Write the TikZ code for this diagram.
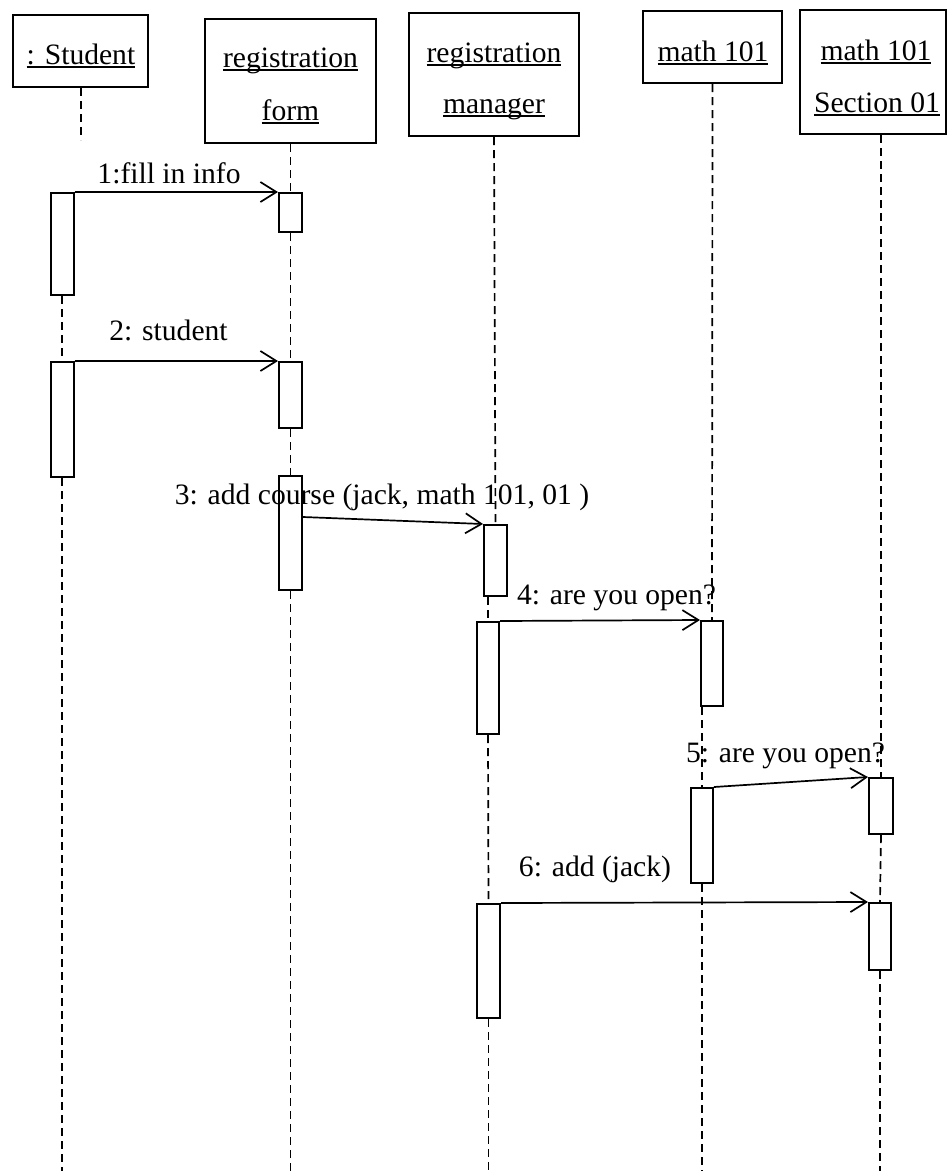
\documentclass[tikz,border=0pt]{standalone}
\usepackage{fontspec}
\setmainfont{Liberation Serif}
\usetikzlibrary{arrows.meta,calc}
\newcommand\ulx[1]{\setbox0\hbox{#1}\rlap{\rule[-3.5pt]{\wd0}{1.8pt}}\box0}
\begin{document}
\begin{tikzpicture}[x=1pt,y=-1pt,
  font=\fontsize{29.6}{34}\selectfont,
  objbox/.style={draw,line width=2pt,inner sep=0pt,fill=white},
  act/.style={draw,line width=2pt,fill=white,minimum width=23pt,inner sep=0pt,anchor=north},
  life/.style={line width=1.7pt,dash pattern=on 8pt off 5pt},
  msg/.style={line width=1.7pt,-{Straight Barb[length=16pt,width=20pt,line width=1.7pt]}},
  lbl/.style={anchor=base,inner sep=0pt}]
\useasboundingbox (0,0) rectangle (948,1171);
% object boxes
\node[objbox,minimum width=135pt,minimum height=72pt] (bStu) at (80.5,51) {};
\node[objbox,minimum width=171pt,minimum height=124pt] (bForm) at (290.5,81) {};
\node[objbox,minimum width=170pt,minimum height=123pt] (bMgr) at (494,74.5) {};
\node[objbox,minimum width=139pt,minimum height=72pt] (bMath) at (712.5,47) {};
\node[objbox,minimum width=146pt,minimum height=124pt] (bSec) at (873,72) {};
\node[lbl] (tStu) at (81,64) {\ulx{: Student}};
\node[lbl] (tForm1) at (290.5,67) {\ulx{registration}};
\node[lbl] (tForm2) at (290.5,120) {\ulx{form}};
\node[lbl] (tMgr1) at (494,62) {\ulx{registration}};
\node[lbl] (tMgr2) at (494,113) {\ulx{manager}};
\node[lbl] (tMath) at (713,61) {\ulx{math 101}};
\node[lbl] (tSec1) at (876,60) {\ulx{math 101}};
\node[lbl] (tSec2) at (877,112) {\ulx{Section 01}};
% activations
\node[act,minimum height=102pt] (sa1) at (62,192) {};
\node[act,minimum height=115pt] (sa2) at (62,361) {};
\node[act,minimum height=39pt] (fa1) at (290.5,192) {};
\node[act,minimum height=66pt] (fa2) at (290.5,361) {};
\node[act,minimum height=114pt] (fa3) at (290.5,475) {};
\node[act,minimum height=71pt] (ma1) at (495.5,524) {};
\node[act,minimum height=112pt,minimum width=22pt] (ma2) at (488,621) {};
\node[act,minimum height=114pt] (ma3) at (488.5,903) {};
\node[act,minimum height=85pt,minimum width=22pt] (mt1) at (712,620) {};
\node[act,minimum height=95pt,minimum width=22pt] (mt2) at (702,787) {};
\node[act,minimum height=56pt,minimum width=24pt] (s1) at (881,777) {};
\node[act,minimum height=67pt,minimum width=22pt] (s2) at (880,902) {};
% free ends
\coordinate (stuTopEnd) at (81,140);
\coordinate (stuEnd) at (62,1171);
\coordinate (formEnd) at (290.5,1171);
\coordinate (mgrEnd) at (488.5,1171);
\coordinate (mathEnd) at (702,1171);
\coordinate (secEnd) at (880,1171);
% lifelines
\draw[life] (bStu.south -| stuTopEnd) -- (stuTopEnd);
\draw[life] (sa1.south) -- (sa2.north);
\draw[life] (sa2.south) -- (stuEnd);
\draw[life] (bForm.south) -- (fa1.north);
\draw[life] (fa1.south) -- (fa2.north);
\draw[life] (fa2.south) -- (fa3.north);
\draw[life] (fa3.south) -- (formEnd);
\draw[life] (bMgr.south) -- (ma1.north);
\draw[life] (ma2.north |- ma1.south) -- (ma2.north);
\draw[life] (ma2.south) -- (ma3.north);
\draw[life] (ma3.south) -- (mgrEnd);
\draw[life] (bMath.south) -- (mt1.north);
\draw[life] (mt2.north |- mt1.south) -- (mt2.north);
\draw[life] (mt2.south) -- (mathEnd);
\draw[life] (bSec.south -| s1.north) -- (s1.north);
\draw[life] (s1.south) -- (s2.north);
\draw[life] (s2.south) -- (secEnd);
% messages
\draw[msg] (sa1.north east) -- (fa1.north west);
\draw[msg] (sa2.north east) -- (fa2.north west);
\draw[msg] ([yshift=-42pt]fa3.north east) -- (ma1.north west);
\draw[msg] (ma2.north east) -- (mt1.north west);
\draw[msg] (mt2.north east) -- (s1.north west);
\draw[msg] (ma3.north east) -- (s2.north west);
% message labels
\node[lbl] (m1) at (169,183) {1:fill in info};
\node[lbl] (m2) at (168.5,340) {2: student};
\node[lbl] (m3) at (382,504) {3: add course (jack, math 101, 01 )};
\node[lbl] (m4) at (616.5,604) {4: are you open?};
\node[lbl] (m5) at (785.5,762) {5: are you open?};
\node[lbl] (m6) at (595,876) {6: add (jack)};
\end{tikzpicture}
\end{document}
